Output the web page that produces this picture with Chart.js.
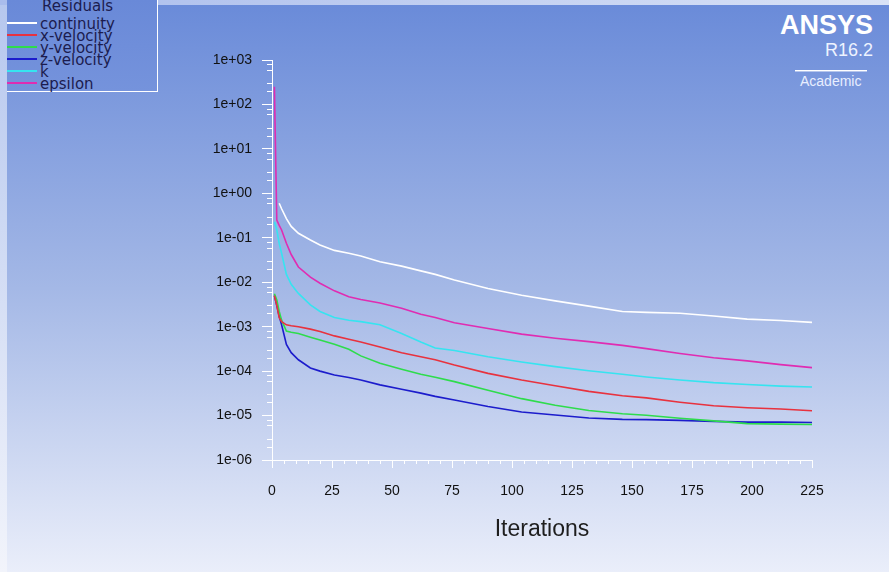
<!DOCTYPE html>
<html>
<head>
<meta charset="utf-8">
<script src="https://cdn.jsdelivr.net/npm/chart.js@4/dist/chart.umd.min.js"></script>
<style>
  html, body { margin: 0; padding: 0; background: #ffffff; }
  #page { position: relative; width: 889px; height: 572px; overflow: hidden; }
  #strip { position: absolute; left: 0; top: 0; width: 7px; height: 572px;
           background: linear-gradient(#b6c7ee, #f2f4fb); }
  #topband { position: absolute; left: 0; top: 0; width: 889px; height: 5px;
             background: linear-gradient(90deg, #a9bcec, #d9e2f6); }
  #panel { position: absolute; left: 7px; top: 5px; right: 0; bottom: 0;
           background: linear-gradient(#6a8bd9 0%, #a4b8e6 50%, #eaeefa 100%); }
  #legend { position: absolute; left: 7px; top: 0; width: 150px; height: 91px;
            background: linear-gradient(#6989d8, #7593dc);
            border-right: 1px solid #ffffff; border-bottom: 1px solid #ffffff; }
  #legend div { position: absolute; font-family: "DejaVu Sans", sans-serif; font-size: 15px;
                line-height: 15px; color: #1c1c4e; white-space: nowrap; }
  #legend span { position: absolute; height: 2px; }
  .logo { position: absolute; color: #ffffff; font-family: "Liberation Sans", Arial, sans-serif;
          white-space: nowrap; line-height: 1; }
  #wrap { position: absolute; left: 0; top: 0; width: 889px; height: 572px; }
</style>
</head>
<body>
<div id="page">
  <div id="strip"></div>
  <div id="topband"></div>
  <div id="panel"></div>
  <div id="legend"></div>
  <div class="logo" style="right:16px; top:12px; font-size:27px; font-weight:bold;">ANSYS</div>
  <div class="logo" style="right:16px; top:41px; font-size:18px; color:#eef3ff;">R16.2</div>
  <div class="logo" style="left:795px; top:70px; width:72px; height:1px; background:#ffffff;"></div>
  <div class="logo" style="left:795px; top:71px; width:72px; height:1px; background:rgba(255,255,255,0.45);"></div>
  <div class="logo" style="left:800px; top:74px; font-size:14px; color:#e8eeff;">Academic</div>
  <div id="wrap"><canvas id="chart"></canvas></div>
</div>
<script>
const iterations = [1, 2, 3, 4, 6, 8, 11, 16, 20, 26, 32, 37, 45, 54, 62, 68, 76, 90, 104, 118, 132, 146, 156, 170, 184, 198, 212, 225];

const continuity = [null, null, 0.6, 0.45, 0.27, 0.18, 0.126, 0.089, 0.069, 0.052, 0.045, 0.039, 0.029, 0.023, 0.018, 0.015, 0.0112, 0.0072, 0.0051, 0.0038, 0.0029, 0.0022, 0.0021, 0.0020, 0.00174, 0.00148, 0.00138, 0.00125];
const xVelocity = [0.005, 0.003, 0.0016, 0.0013, 0.0011, 0.00105, 0.001, 0.00088, 0.00078, 0.00062, 0.00052, 0.00045, 0.00035, 0.00026, 0.00021, 0.00018, 0.000137, 0.000089, 0.000063, 0.000047, 0.000035, 0.000028, 0.000025, 0.00002, 0.0000166, 0.000015, 0.000014, 0.0000128];
const yVelocity = [0.0055, 0.004, 0.0022, 0.0014, 0.0008, 0.00075, 0.0007, 0.00058, 0.0005, 0.0004, 0.00031, 0.00022, 0.00015, 0.00011, 0.000085, 0.000073, 0.000058, 0.000037, 0.000024, 0.000017, 0.000013, 0.000011, 0.0000102, 0.0000087, 0.0000076, 0.0000066, 0.0000064, 0.0000063];
const zVelocity = [0.005, 0.003, 0.0017, 0.0011, 0.0004, 0.00026, 0.00018, 0.000118, 0.0001, 0.000082, 0.000072, 0.000063, 0.000049, 0.000039, 0.000032, 0.000027, 0.0000224, 0.000016, 0.000012, 0.0000103, 0.0000088, 0.0000082, 0.0000081, 0.0000078, 0.0000074, 0.0000071, 0.0000071, 0.000007];
const kResidual = [0.23, 0.15, 0.075, 0.045, 0.015, 0.009, 0.0056, 0.0031, 0.0022, 0.0016, 0.0014, 0.0013, 0.0011, 0.0007, 0.00045, 0.00033, 0.00029, 0.00021, 0.00016, 0.000126, 0.000102, 0.000085, 0.000074, 0.000063, 0.000055, 0.00005, 0.000046, 0.000044];
const epsilon = [250, 0.25, 0.19, 0.15, 0.075, 0.042, 0.022, 0.013, 0.0095, 0.0064, 0.0047, 0.0041, 0.0034, 0.0026, 0.0019, 0.0016, 0.00123, 0.00091, 0.00068, 0.00055, 0.00046, 0.00038, 0.00032, 0.00025, 0.0002, 0.00017, 0.00014, 0.00012];

const seriesNames = ['continuity', 'x-velocity', 'y-velocity', 'z-velocity', 'k', 'epsilon'];
const seriesValues = [continuity, xVelocity, yVelocity, zVelocity, kResidual, epsilon];
const seriesColors = ['#ffffff', '#e8323e', '#2edc4c', '#1c1ccc', '#36e4f0', '#e02cb2'];

const xTicks = [0, 25, 50, 75, 100, 125, 150, 175, 200, 225];
const yDecades = [1e-6, 1e-5, 1e-4, 1e-3, 1e-2, 1e-1, 1e0, 1e1, 1e2, 1e3];
const yMinorSteps = [2, 3, 6, 8];

// legend built by hand, fluent style
const legend = document.getElementById('legend');
const legendLines = [23, 35, 47, 59, 71, 83];
legend.innerHTML = '<div style="left:35px; top:-1px;">Residuals</div>';
seriesNames.forEach((name, i) => {
    const y = legendLines[i];
    legend.innerHTML += `<span style="left:0; top:${y - 1}px; width:30px; background:${seriesColors[i]};"></span>`
        + `<div style="left:33px; top:${y - 6}px;">${name}</div>`;
});

function formatExp(v) {
    const e = Math.round(Math.log10(v));
    return '1e' + (e < 0 ? '-' : '+') + String(Math.abs(e)).padStart(2, '0');
}

const minorTicks = {
    id: 'minorTicks',
    afterDraw(chart) {
        const { ctx, chartArea } = chart;
        const x = chart.scales.x, y = chart.scales.y;
        ctx.save();
        ctx.strokeStyle = '#ffffff';
        ctx.lineWidth = 1;
        ctx.beginPath();
        for (let i = 0; i < yDecades.length - 1; i++) {
            for (const m of yMinorSteps) {
                const py = Math.round(y.getPixelForValue(yDecades[i] * m)) + 0.5;
                ctx.moveTo(chartArea.left - 5, py);
                ctx.lineTo(chartArea.left, py);
            }
        }
        for (let v = 0; v <= 225; v += 5) {
            if (v % 25 === 0) continue;
            const px = Math.round(x.getPixelForValue(v)) + 0.5;
            ctx.moveTo(px, chartArea.bottom);
            ctx.lineTo(px, chartArea.bottom + 4);
        }
        ctx.stroke();
        ctx.restore();
    }
};

const tickFont = { family: '"Liberation Sans", Arial, sans-serif', size: 14 };

new Chart(document.getElementById('chart'), {
    type: 'line',
    data: {
        datasets: seriesNames.map((name, i) => ({
            label: name,
            data: iterations.map((it, j) => ({ x: it, y: seriesValues[i][j] })).filter(p => p.y !== null),
            borderColor: seriesColors[i],
            borderWidth: 1.6,
            pointRadius: 0,
            tension: 0,
            fill: false
        }))
    },
    options: {
        responsive: true,
        maintainAspectRatio: false,
        animation: false,
        layout: { padding: { left: 180, right: 77, top: 60, bottom: 29 } },
        plugins: { legend: { display: false }, tooltip: { enabled: false } },
        scales: {
            x: {
                type: 'linear',
                min: 0,
                max: 225,
                afterBuildTicks: s => { s.ticks = xTicks.map(v => ({ value: v })); },
                afterFit: s => { s.height = 83; },
                ticks: { color: '#111111', font: tickFont, padding: 15, maxRotation: 0, autoSkip: false },
                grid: { drawOnChartArea: false, color: '#ffffff', tickColor: '#ffffff', tickLength: 8 },
                border: { color: '#ffffff', width: 1 },
                title: {
                    display: true,
                    text: 'Iterations',
                    color: '#1e1e1e',
                    font: { family: '"Liberation Sans", Arial, sans-serif', size: 23 },
                    padding: 0
                }
            },
            y: {
                type: 'logarithmic',
                min: 1e-6,
                max: 1e3,
                afterBuildTicks: s => { s.ticks = yDecades.map(v => ({ value: v })); },
                afterFit: s => { s.width = 92; },
                ticks: { color: '#111111', font: tickFont, padding: 10, autoSkip: false, callback: v => formatExp(v) },
                grid: { drawOnChartArea: false, color: '#ffffff', tickColor: '#ffffff', tickLength: 10 },
                border: { color: '#ffffff', width: 1 }
            }
        }
    },
    plugins: [minorTicks]
});
</script>
</body>
</html>
